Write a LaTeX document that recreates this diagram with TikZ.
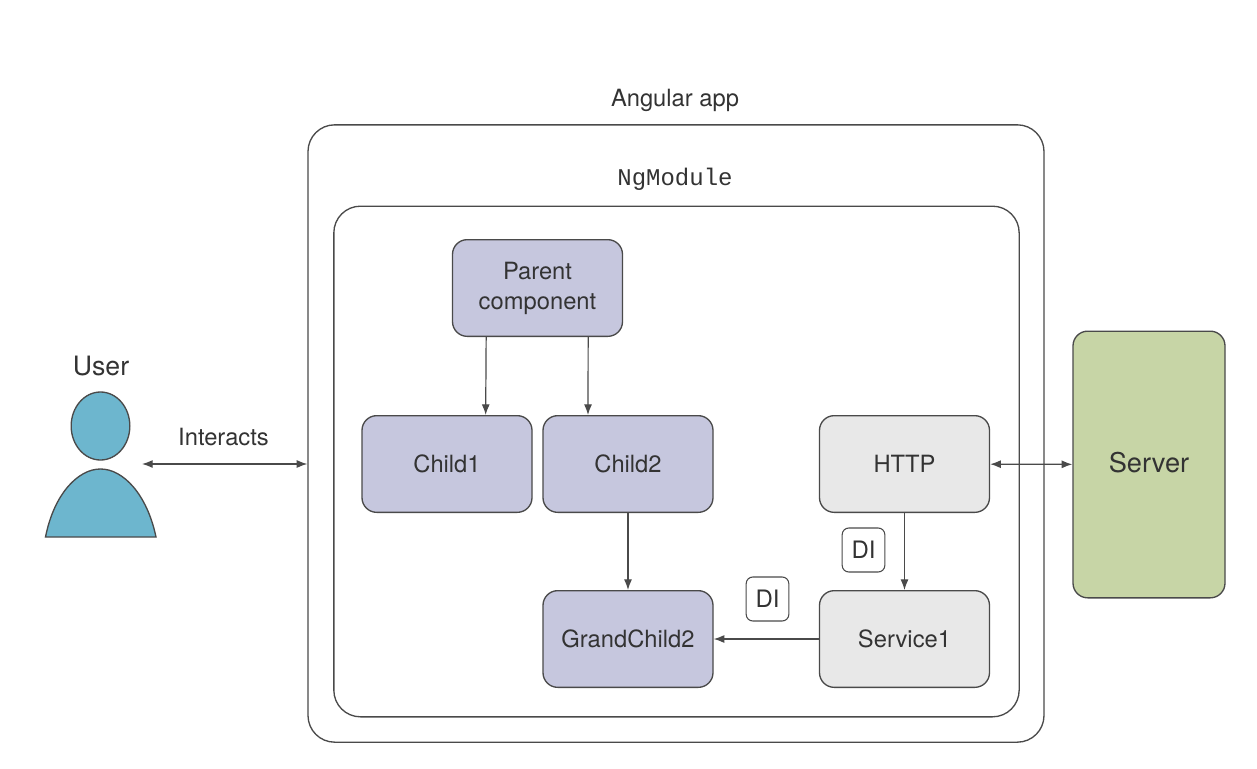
\documentclass[tikz,border=0pt]{standalone}
\usepackage{fontspec}
\setmainfont{TeX Gyre Heros}
\setmonofont{Liberation Mono}
\usetikzlibrary{positioning, shapes.geometric, arrows.meta}

\definecolor{compfill}{HTML}{C6C7DE}
\definecolor{svcfill}{HTML}{E8E8E8}
\definecolor{serverfill}{HTML}{C7D5A6}
\definecolor{userfill}{HTML}{6DB6CE}
\definecolor{edgecol}{HTML}{4A4A4A}
\definecolor{textcol}{HTML}{333333}

\tikzset{
  frame/.style={draw=edgecol,line width=1pt,rounded corners=20pt,fill=white},
  box/.style={draw=edgecol,line width=1pt,rounded corners=11pt,minimum width=127.5pt,minimum height=72.5pt,align=center,text=textcol,font=\fontsize{17.8}{22.5}\selectfont},
  comp/.style={box,fill=compfill},
  svc/.style={box,fill=svcfill},
  di/.style={draw=edgecol,line width=0.8pt,rounded corners=5pt,fill=white,minimum width=32pt,minimum height=33pt,inner sep=0pt,text=textcol,font=\fontsize{18}{20}\selectfont},
  lbl/.style={text=textcol,inner sep=0pt,font=\fontsize{17.8}{20}\selectfont},
  link/.style={draw=edgecol,line width=0.9pt,-{Latex[length=8pt,width=6pt]}},
  biglink/.style={draw=edgecol,line width=0.9pt,{Latex[length=8pt,width=6pt]}-{Latex[length=8pt,width=6pt]}}
}

\begin{document}
\begin{tikzpicture}[x=0.75pt,y=-0.75pt]
\useasboundingbox (0,0) rectangle (1257,768);

\node [lbl] (applabel) at (675,100) {Angular app};
\node [frame,minimum width=552pt,minimum height=463pt] (app) at (676,433.5) {};
\node [lbl,font=\ttfamily\fontsize{18}{20}\selectfont] (modlabel) at (675,179) {NgModule};
\node [frame,minimum width=514pt,minimum height=383pt] (mod) at (676.5,461.5) {};
%
\node [comp] (parent) at (537.5,288) {Parent\\component};
\node [comp] (child1) at (447,464) {Child1};
\node [comp] (child2) at (628,464) {Child2};
\node [comp] (grand) at (628,639) {GrandChild2};
\node [svc] (http) at (904.5,464) {HTTP};
\node [svc] (service) at (904.5,639) {Service1};
\node [box,fill=serverfill,minimum width=114pt,minimum height=200pt,font=\fontsize{20.4}{22}\selectfont] (server) at (1149,464.5) {\raisebox{3pt}{Server}};
\node [di] (di1) at (863.5,550) {DI};
\node [di] (di2) at (767.5,599) {DI};
%
\node [lbl,font=\fontsize{20}{22}\selectfont] (userlabel) at (101,366) {User};
\node [draw=edgecol,line width=1pt,fill=userfill,ellipse,minimum width=44pt,minimum height=51pt,inner sep=0pt] (head) at (100.5,426) {};
\draw [edgecol,line width=1pt,fill=userfill] (45.5,537) .. controls (54,494) and (78,469) .. (100.5,469) .. controls (123,469) and (147,494) .. (156,537) -- cycle;
\node [lbl] (interacts) at (223.5,437) {Interacts};
\coordinate (userside) at (142,464);
%
\draw [link] ([xshift=-38.5pt]parent.south) -- ([xshift=29pt]child1.north);
\draw [link] ([xshift=38pt]parent.south) -- ([xshift=-30pt]child2.north);
\draw [link] (child2) -- (grand);
\draw [link] (http) -- (service);
\draw [link] (service) -- (grand);
\draw [biglink] (userside) -- (userside -| app.west);
\draw [biglink] (http) -- (server);

\end{tikzpicture}
\end{document}
